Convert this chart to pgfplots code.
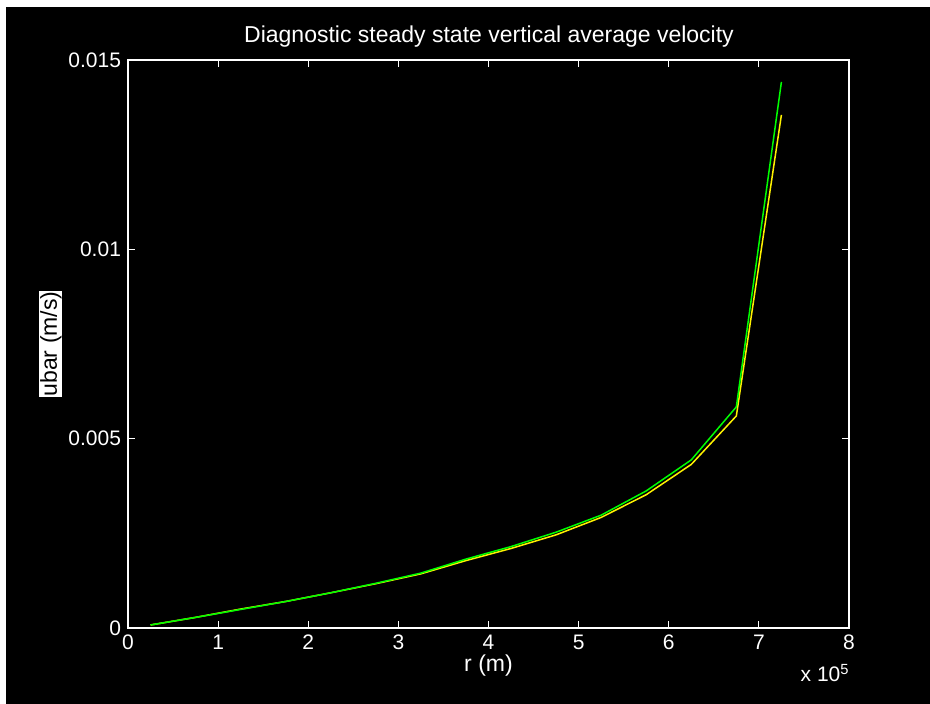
\documentclass[border=0pt]{standalone}
\usepackage{pgfplots}
\pgfplotsset{compat=1.18}
\usepackage{fontspec}
\setmainfont{Liberation Sans}
\begin{document}
\begin{tikzpicture}
\useasboundingbox (0,0) rectangle (465pt,352pt);
\fill[white] (0,0) rectangle (465pt,352pt);
\fill[black] (3pt,0) rectangle (465pt,348.5pt);
\begin{axis}[
  at={(64pt,38pt)}, anchor=south west,
  scale only axis, width=360.5pt, height=284pt,
  xmin=0, xmax=8, ymin=0, ymax=0.015,
  axis line style={white, line width=0.6pt},
  tick style={white, line width=0.5pt},
  tick align=inside,
  major tick length=3.5pt,
  xtick={0,1,2,3,4,5,6,7,8},
  xticklabels={0,1,2,3,4,5,6,7,8},
  ytick={0,0.005,0.01,0.015},
  yticklabels={0,0.005,0.01,0.015},
  scaled y ticks=false,
  ticklabel style={white, font=\fontsize{10.5}{12}\selectfont},
  xlabel={r (m)},
  xlabel style={white, font=\fontsize{11.5}{13}\selectfont, at={(axis description cs:0.5,-0.066)}, anchor=center},
  ylabel={ubar (m/s)},
  ylabel style={black, fill=white, inner sep=0.4pt, font=\fontsize{11.5}{13}\selectfont, at={(axis description cs:-0.107,0.5)}, anchor=center, rotate=0},
  clip=false,
]
\addplot[yellow, line width=0.75pt] coordinates {
(0.25,0.00008) (0.75,0.00028) (1.25,0.00050) (1.75,0.00070) (2.25,0.00093)
(2.75,0.00117) (3.25,0.00143) (3.75,0.00178) (4.25,0.00210) (4.75,0.00246)
(5.25,0.00292) (5.75,0.00352) (6.25,0.00432) (6.75,0.00560) (7.25,0.01355)
};
\addplot[green, line width=0.75pt] coordinates {
(0.25,0.00008) (0.75,0.00028) (1.25,0.00049) (1.75,0.00070) (2.25,0.00093)
(2.75,0.00118) (3.25,0.00145) (3.75,0.00182) (4.25,0.00215) (4.75,0.00253)
(5.25,0.00298) (5.75,0.00362) (6.25,0.00444) (6.75,0.00584) (7.25,0.01442)
};
\end{axis}
\node[white, anchor=center, font=\fontsize{11.5}{13}\selectfont] at (244.5pt,333.5pt) {Diagnostic steady state vertical average velocity};
\node[white, anchor=base east, inner sep=0pt, font=\fontsize{10.5}{12}\selectfont] at (425pt,11pt) {x 10\textsuperscript{5}};
\end{tikzpicture}
\end{document}
